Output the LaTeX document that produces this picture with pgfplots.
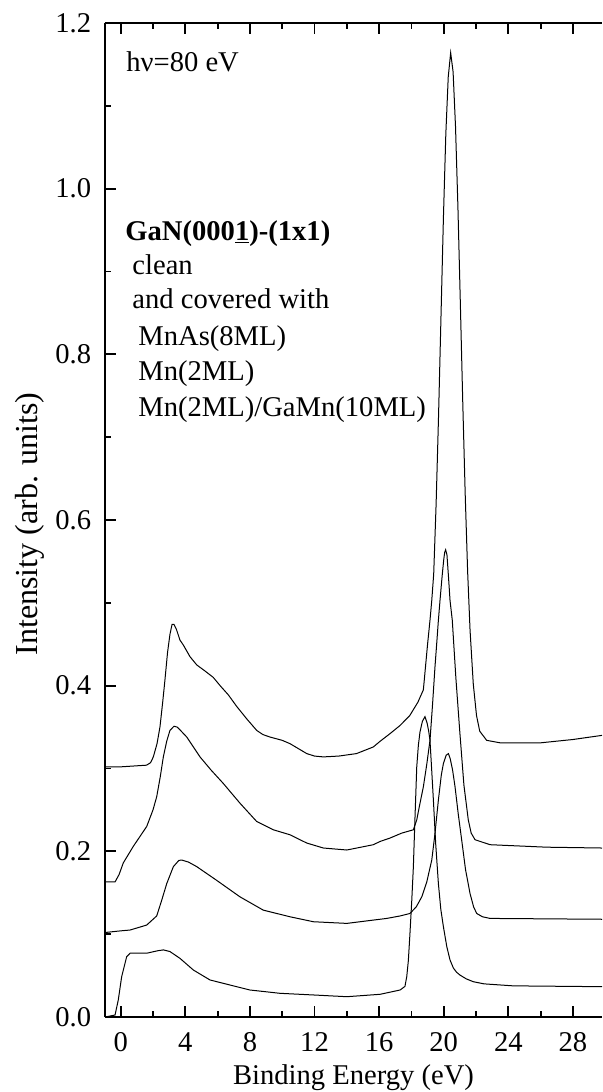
\documentclass[border=0pt]{standalone}
\usepackage{fontspec}
\setmainfont{Liberation Serif}
\usepackage{pgfplots}
\pgfplotsset{compat=1.18}
\begin{document}
\fontsize{14.3}{17}\selectfont
\begin{tikzpicture}
\begin{axis}[
  at={(0,0)}, anchor=south west,
  scale only axis, width=248.5pt, height=497pt,
  xmin=-0.972, xmax=29.8, ymin=0, ymax=1.2,
  axis x line*=box, axis y line*=left,
  axis line style={line width=1pt},
  xtick={0,4,...,28}, minor x tick num=1,
  ytick={0,0.2,...,1.2}, minor y tick num=1,
  tick align=inside,
  major tick length=5.5pt, minor tick length=3pt,
  every tick/.style={line width=0.9pt, black},
  /pgf/number format/assume math mode=true,
  yticklabel style={/pgf/number format/fixed,/pgf/number format/precision=1,/pgf/number format/fixed zerofill, xshift=-2pt},
  xticklabel style={yshift=-3pt},
  scaled y ticks=false,
  xlabel={Binding Energy (eV)},
  ylabel={Intensity (arb. units)},
  xlabel style={at={(axis description cs:0.5,-0.0684)}, anchor=base},
  ylabel style={at={(axis description cs:-0.1368,0.496)}, anchor=base, font=\fontsize{16}{19}\selectfont},
  clip=true,
]
% top curve
\addplot[black, line width=0.5pt] coordinates {
(-0.97,0.302) (-0.5,0.302) (0,0.302) (0.8,0.303) (1.6,0.304) (1.85,0.307) (2.02,0.314) (2.25,0.33) (2.43,0.35) (2.6,0.38) (2.74,0.407) (2.9,0.44) (3.05,0.462) (3.18,0.474) (3.3,0.474) (3.45,0.468) (3.67,0.455) (3.88,0.449) (4.29,0.435) (4.71,0.425) (5.2,0.418) (5.73,0.41) (6.2,0.399) (6.66,0.389) (7.18,0.375) (7.8,0.36) (8.42,0.346) (8.8,0.341) (9.24,0.338) (10.0,0.334) (10.48,0.330) (11.0,0.324) (11.52,0.318) (12.0,0.315) (12.55,0.314) (13.5,0.315) (14.6,0.318) (15.64,0.326) (16.07,0.333) (16.67,0.342) (17.3,0.352) (17.9,0.364) (18.4,0.38) (18.74,0.395) (19.0,0.45) (19.15,0.479) (19.26,0.503) (19.38,0.535) (19.53,0.62) (19.68,0.726) (19.83,0.845) (19.98,0.964) (20.13,1.066) (20.28,1.135) (20.43,1.164) (20.58,1.141) (20.73,1.075) (20.88,0.977) (21.03,0.861) (21.18,0.741) (21.33,0.631) (21.48,0.538) (21.63,0.467) (21.83,0.402) (22.03,0.364) (22.23,0.345) (22.66,0.334) (23.49,0.331) (26.0,0.331) (28,0.335) (29.8,0.340)
};
% second curve
\addplot[black, line width=0.5pt] coordinates {
(-0.97,0.163) (-0.35,0.163) (-0.1,0.172) (0.16,0.186) (0.78,0.206) (1.61,0.230) (2.0,0.25) (2.23,0.266) (2.45,0.29) (2.64,0.314) (2.85,0.333) (3.05,0.346) (3.3,0.351) (3.5,0.350) (3.75,0.345) (4.09,0.338) (4.5,0.326) (4.91,0.314) (5.6,0.298) (6.35,0.282) (7.39,0.258) (8.42,0.236) (9.45,0.226) (10.48,0.220) (11.52,0.210) (12.55,0.204) (14.0,0.2016) (15.64,0.208) (16.07,0.212) (16.67,0.216) (17.4,0.222) (18.12,0.226) (18.33,0.238) (18.5,0.255) (18.74,0.278) (18.95,0.305) (19.15,0.334) (19.3,0.375) (19.46,0.423) (19.57,0.452) (19.67,0.479) (19.77,0.503) (19.9,0.532) (20.0,0.552) (20.06,0.561) (20.12,0.564) (20.2,0.558) (20.3,0.530) (20.39,0.503) (20.53,0.479) (20.75,0.41) (21.0,0.343) (21.25,0.28) (21.52,0.238) (21.7,0.222) (21.94,0.214) (22.87,0.208) (26.38,0.205) (29.8,0.204)
};
% third curve
\addplot[black, line width=0.5pt] coordinates {
(-0.97,0.102) (0.0,0.104) (0.58,0.105) (1.61,0.111) (2.23,0.122) (2.54,0.141) (2.85,0.161) (3.26,0.1815) (3.6,0.189) (3.78,0.1895) (4.2,0.187) (4.71,0.1815) (5.94,0.165) (7.39,0.145) (8.83,0.129) (10.48,0.121) (11.93,0.115) (14.0,0.113) (15.64,0.117) (16.47,0.119) (17.3,0.122) (17.91,0.125) (18.3,0.133) (18.64,0.145) (18.95,0.163) (19.26,0.1895) (19.45,0.22) (19.67,0.262) (19.85,0.292) (19.98,0.306) (20.15,0.316) (20.29,0.318) (20.4,0.312) (20.55,0.298) (20.7,0.278) (20.9,0.245) (21.11,0.214) (21.35,0.178) (21.63,0.149) (21.85,0.133) (22.04,0.125) (22.4,0.121) (22.87,0.119) (29.8,0.118)
};
% bottom curve
\addplot[black, line width=0.5pt] coordinates {
(-0.97,0.0) (-0.35,0.0024) (-0.15,0.0205) (0.06,0.0487) (0.37,0.0728) (0.58,0.077) (1.61,0.077) (2.3,0.080) (2.64,0.081) (3.05,0.079) (3.67,0.0708) (4.5,0.0567) (5.53,0.0447) (6.77,0.0386) (8.0,0.0326) (9.86,0.0286) (11.93,0.0266) (14.0,0.0245) (16.06,0.0274) (17.3,0.0326) (17.6,0.037) (17.71,0.0487) (17.81,0.068) (17.91,0.101) (18.02,0.14) (18.12,0.181) (18.22,0.24) (18.33,0.302) (18.43,0.328) (18.53,0.344) (18.68,0.357) (18.84,0.3626) (18.97,0.355) (19.07,0.345) (19.15,0.334) (19.25,0.30) (19.36,0.262) (19.5,0.21) (19.67,0.161) (19.82,0.13) (19.98,0.109) (20.19,0.085) (20.39,0.0688) (20.6,0.059) (20.8,0.054) (21.0,0.0507) (21.4,0.046) (21.83,0.0426) (22.5,0.040) (24.3,0.0376) (29.8,0.0366)
};
\node[anchor=base west, inner sep=0pt] at (axis cs:0.33,1.141) {hν=80 eV};
\node[anchor=base west, inner sep=0pt] at (axis cs:0.266,0.938) {\textbf{GaN(000\underline{1})-(1x1)}};
\node[anchor=base west, inner sep=0pt] at (axis cs:0.70,0.896) {clean};
\node[anchor=base west, inner sep=0pt] at (axis cs:0.70,0.855) {and covered with};
\node[anchor=base west, inner sep=0pt] at (axis cs:1.07,0.811) {MnAs(8ML)};
\node[anchor=base west, inner sep=0pt] at (axis cs:1.07,0.769) {Mn(2ML)};
\node[anchor=base west, inner sep=0pt] at (axis cs:1.07,0.725) {Mn(2ML)/GaMn(10ML)};
\end{axis}
\pgfresetboundingbox
\path[use as bounding box] (-52.5pt,-37.5pt) rectangle (248.5pt,508.5pt);
\end{tikzpicture}
\end{document}
